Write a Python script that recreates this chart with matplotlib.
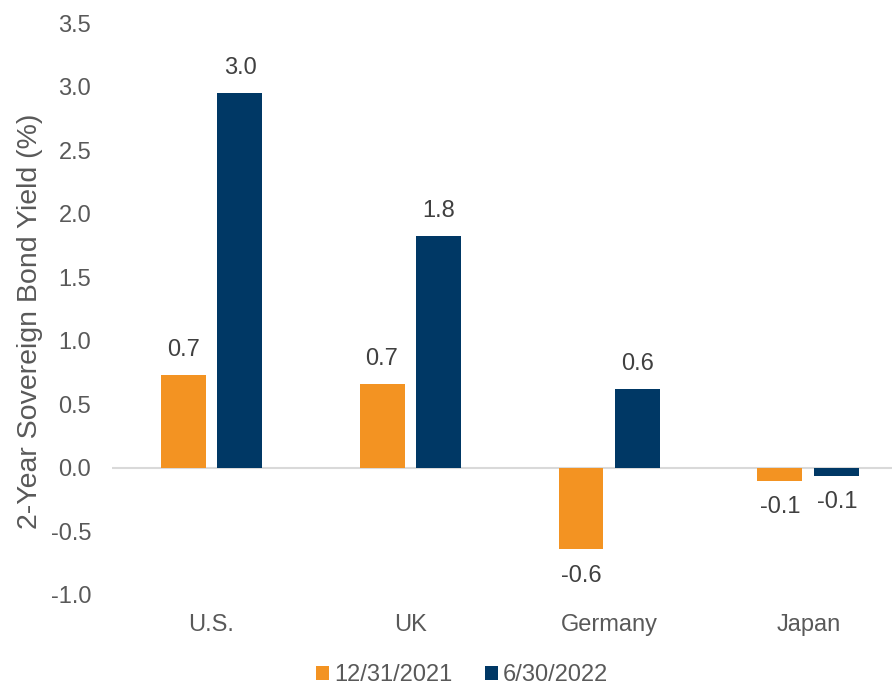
import matplotlib
matplotlib.use("Agg")
import matplotlib.pyplot as plt
import numpy as np

categories = ["U.S.", "UK", "Germany", "Japan"]
series_names = ["12/31/2021", "6/30/2022"]
values_2021 = [0.73, 0.66, -0.64, -0.10]
values_2022 = [2.95, 1.83, 0.62, -0.06]
labels_2021 = ["0.7", "0.7", "-0.6", "-0.1"]
labels_2022 = ["3.0", "1.8", "0.6", "-0.1"]
yticks = [-1.0, -0.5, 0.0, 0.5, 1.0, 1.5, 2.0, 2.5, 3.0, 3.5]

colors = ["#F39322", "#003865"]
plt.rcParams['font.family'] = ['Liberation Sans', 'DejaVu Sans']
FS = 17

fig = plt.figure(figsize=(8.92, 6.85), dpi=100)
ax = fig.add_axes([0.1256, 0.1314, 0.8744, 0.8343])

x = np.arange(len(categories))
w = 0.226
off = 0.143
b1 = ax.bar(x - off, values_2021, w, color=colors[0], label=series_names[0], zorder=3)
b2 = ax.bar(x + off, values_2022, w, color=colors[1], label=series_names[1], zorder=3)

for bars, vals, labs in ((b1, values_2021, labels_2021), (b2, values_2022, labels_2022)):
    for rect, v, lab in zip(bars, vals, labs):
        cx = rect.get_x() + rect.get_width() / 2
        dy = 18 if v >= 0 else -19
        ax.annotate(lab, (cx, v), xytext=(0, dy), textcoords="offset points",
                    ha="center", va="center", fontsize=FS, color="#404040")

ax.axhline(0, color="#D9D9D9", lw=1.5, zorder=2)
ax.set_xlim(-0.5, 3.42)
ax.set_ylim(-1.0, 3.5)
ax.set_yticks(yticks)
ax.set_yticklabels([f"{t:.1f}" for t in yticks])
ax.set_xticks(x)
ax.set_xticklabels(categories)
for s in ax.spines.values():
    s.set_visible(False)
ax.tick_params(axis="both", length=0, labelsize=FS, labelcolor="#595959")
ax.tick_params(axis="y", pad=15)
ax.tick_params(axis="x", pad=14)
fig.text(30 / 892, 1 - 321 / 685, "2-Year Sovereign Bond Yield (%)", rotation=90,
         ha="center", va="center", fontsize=20.5, color="#595959")

fig.legend(handles=[b1, b2], labels=series_names, loc="center", bbox_to_anchor=(0.518, 0.014),
           ncol=2, frameon=False, fontsize=FS, labelcolor="#595959",
           handlelength=0.55, handleheight=0.55, handletextpad=0.2, columnspacing=1.4)

fig.savefig("out.png", dpi=100)
